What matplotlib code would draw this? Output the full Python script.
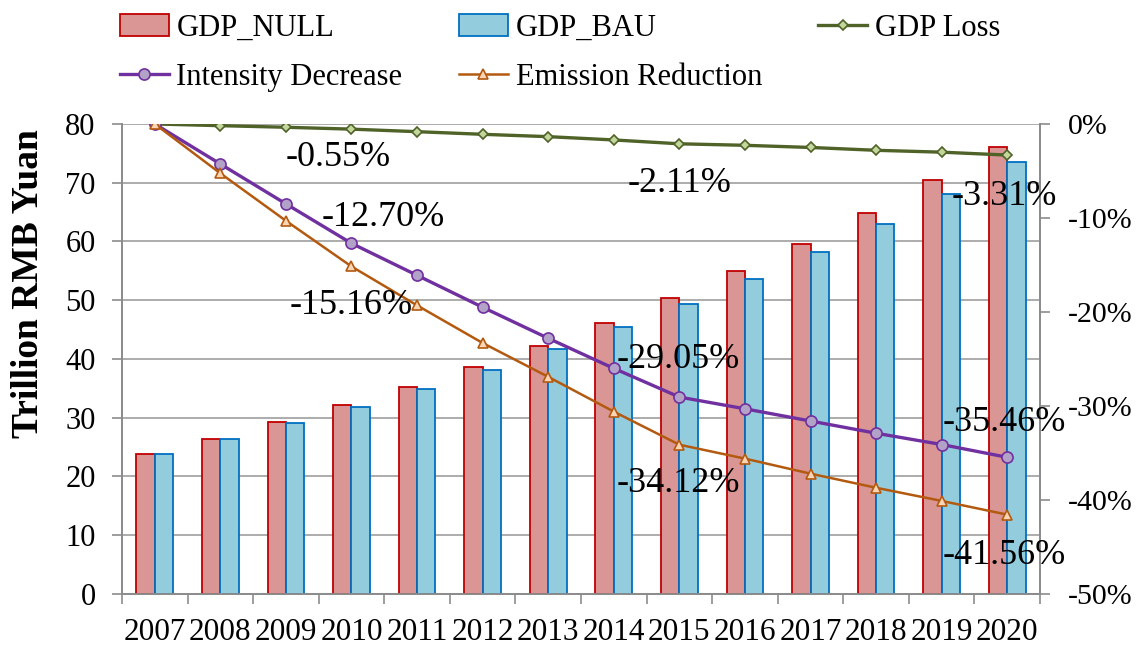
import numpy as np
import matplotlib.pyplot as plt
from matplotlib.ticker import FuncFormatter

plt.rcParams['font.family'] = ['Liberation Serif', 'DejaVu Serif']

years = [2007, 2008, 2009, 2010, 2011, 2012, 2013, 2014, 2015, 2016, 2017, 2018, 2019, 2020]
gdp_null = [23.8, 26.4, 29.2, 32.2, 35.2, 38.7, 42.2, 46.2, 50.4, 54.9, 59.6, 64.8, 70.4, 76.1]
gdp_bau = [23.8, 26.4, 29.05, 31.9, 34.9, 38.2, 41.7, 45.4, 49.4, 53.6, 58.2, 63.0, 68.1, 73.6]
gdp_loss = [0.0, -0.18, -0.35, -0.55, -0.82, -1.10, -1.35, -1.70, -2.11, -2.27, -2.50, -2.80, -3.00, -3.31]
intensity = [0.0, -4.26, -8.5, -12.70, -16.1, -19.5, -22.8, -26.0, -29.05, -30.3, -31.6, -32.9, -34.1, -35.46]
emission = [0.0, -5.25, -10.3, -15.16, -19.3, -23.3, -26.9, -30.6, -34.12, -35.6, -37.2, -38.7, -40.1, -41.56]

x = np.arange(len(years))
grey = '#8c8c8c'

fig = plt.figure(figsize=(11.38, 6.45), dpi=100)
ax = fig.add_axes([0.1072, 0.0791, 0.8067, 0.7287])
ax2 = ax.twinx()

w = 0.28
b1 = ax.bar(x - w / 2, gdp_null, w, color='#D99694', edgecolor='#C00000', linewidth=1.3,
            label='GDP_NULL', zorder=3)
b2 = ax.bar(x + w / 2, gdp_bau, w, color='#93CDDD', edgecolor='#0070C0', linewidth=1.3,
            label='GDP_BAU', zorder=3)

ax.set_xlim(-0.5, len(years) - 0.5)
ax.set_ylim(0, 80)
ax.set_yticks(range(0, 81, 10))
ax.yaxis.grid(True, color='#a6a6a6', linewidth=1.3, zorder=0)
ax.set_axisbelow(True)
ax.set_xticks(x)
ax.set_xticklabels([str(y) for y in years], fontsize=22.5)
ax.set_xticks(np.arange(-0.5, len(years)), minor=True)
ax.tick_params(axis='x', which='major', length=0, pad=17)
ax.tick_params(axis='x', which='minor', length=7, color=grey, width=1.2)
ax.tick_params(axis='y', labelsize=22, length=7, color=grey, width=1.2, pad=12)
ax.set_ylabel('Trillion RMB Yuan', fontsize=27, fontweight='bold')
ax.yaxis.set_label_coords(-0.083, 0.66)

for s in ['left', 'bottom', 'right']:
    ax.spines[s].set_color(grey)
    ax.spines[s].set_linewidth(1.3)
    ax2.spines[s].set_color(grey)
    ax2.spines[s].set_linewidth(1.3)
ax.spines['top'].set_visible(False)
ax2.spines['top'].set_visible(False)

l1, = ax2.plot(x, gdp_loss, color='#4F6228', linewidth=2.4, marker='D', markersize=5,
               markerfacecolor='#C3D69B', markeredgecolor='#4F6228', markeredgewidth=1.2,
               label='GDP Loss')
l2, = ax2.plot(x, intensity, color='#7030A0', linewidth=2.4, marker='o', markersize=8,
               markerfacecolor='#B3A2C7', markeredgecolor='#7030A0', markeredgewidth=1.2,
               label='Intensity Decrease')
l3, = ax2.plot(x, emission, color='#B35A10', linewidth=1.8, marker='^', markersize=7,
               markerfacecolor='#FCD5B5', markeredgecolor='#B35A10', markeredgewidth=1.2,
               label='Emission Reduction')

ax2.set_ylim(-50, 0)
ax2.set_yticks(range(-50, 1, 10))
ax2.yaxis.set_major_formatter(FuncFormatter(lambda v, p: '%d%%' % v))
ax2.tick_params(axis='y', labelsize=21.5, length=7, color=grey, width=1.2, pad=13)

# data labels: (series, index, text x, text y)
labels = [
    (gdp_loss, 3, 2.79, -3.6),
    (gdp_loss, 8, 8.0, -6.3),
    (gdp_loss, 13, 12.95, -7.7),
    (intensity, 3, 3.48, -10.0),
    (intensity, 8, 7.98, -25.1),
    (intensity, 13, 12.95, -31.8),
    (emission, 3, 2.99, -19.3),
    (emission, 8, 7.98, -38.3),
    (emission, 13, 12.95, -45.9),
]
for series, i, tx, ty in labels:
    ax2.text(tx, ty, '%.2f%%' % series[i], fontsize=26, ha='center', va='center', zorder=5)

handles = [b1, l2, b2, l3, l1]
fig.legend(handles=handles, labels=[h.get_label() for h in handles], ncol=3,
           loc='upper left', bbox_to_anchor=(0.1054, 0.979), frameon=False,
           fontsize=22, handlelength=1.6, handletextpad=0.25, columnspacing=1.85,
           labelspacing=0.66, borderpad=0, borderaxespad=0)

fig.savefig('out.png', dpi=100)
